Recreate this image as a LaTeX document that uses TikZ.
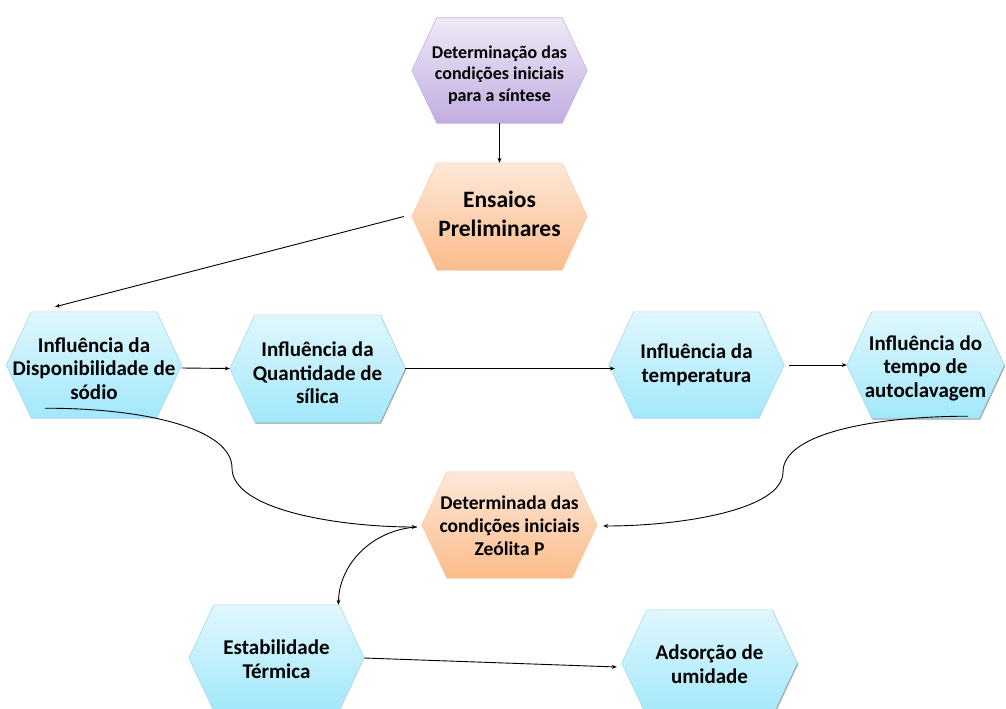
\documentclass[tikz,border=0pt]{standalone}
\usepackage{fontspec}
\setmainfont{Carlito}
\usetikzlibrary{arrows.meta}
\definecolor{bluetop}{HTML}{E0F7FD}
\definecolor{bluebot}{HTML}{A2E8FB}
\definecolor{blueline}{HTML}{A6DAEA}
\definecolor{orantop}{HTML}{FEE8D9}
\definecolor{oranbot}{HTML}{FBBC8B}
\definecolor{oranline}{HTML}{F9CDAA}
\definecolor{purptop}{HTML}{EFE9F7}
\definecolor{purpbot}{HTML}{C1ADE0}
\definecolor{purpline}{HTML}{C4B3E2}
\pgfdeclarelayer{background}
\pgfsetlayers{background,main}
\newcommand\txt[2]{\raisebox{-#1}[\height][\depth]{\begin{tabular}{@{}c@{}}#2\end{tabular}}}
\begin{document}
\begin{tikzpicture}[x=1pt,y=-1pt,
  hex/.style={rectangle, minimum width=175pt, minimum height=106pt, inner sep=0pt,
    font=\bfseries\fontsize{21}{23.5}\selectfont},
  hexp/.style={insert path={([xshift=25pt]#1.north west) -- ([xshift=-25pt]#1.north east)
    -- (#1.east) -- ([xshift=-25pt]#1.south east) -- ([xshift=25pt]#1.south west)
    -- (#1.west) -- cycle}},
  hblue/.style={top color=bluetop, bottom color=bluebot, draw=blueline, line width=0.6pt, hexp=#1},
  horan/.style={top color=orantop, bottom color=oranbot, draw=oranline, line width=0.6pt, hexp=#1},
  hpurp/.style={top color=purptop, bottom color=purpbot, draw=purpline, line width=0.6pt, hexp=#1},
  hshadow/.style={fill=black!55, opacity=0.7, transform canvas={shift={(0.9pt,-1.3pt)}}, hexp=#1},
  arr/.style={-{Stealth[length=5pt,width=4pt]}, line width=0.9pt, black}
]
\useasboundingbox (0,0) rectangle (1006,709);

\node[hex, font=\bfseries\fontsize{18}{21.5}\selectfont, minimum height=105pt] (pur) at (499.5,70.5)
  {\txt{5pt}{Determinação das\\condições iniciais\\para a síntese}};
\node[hex, font=\bfseries\fontsize{23.5}{28.5}\selectfont, minimum height=107pt] (ens) at (499.5,216.5)
  {\txt{0pt}{Ensaios\\Preliminares}};
\node[hex] (disp) at (94,365) {\txt{6pt}{Influência da\\Disponibilidade de\\sódio}};
\node[hex, minimum height=107pt] (quant) at (317.5,368.5) {\txt{7pt}{Influência da\\Quantidade de\\sílica}};
\node[hex] (temp) at (696.5,365) {\txt{1pt}{Influência da\\temperatura}};
\node[hex, minimum width=157pt] (auto) at (925.5,365) {\txt{4pt}{Influência do\\tempo de\\autoclavagem}};
\node[hex, font=\bfseries\fontsize{19.5}{23}\selectfont] (det) at (509.5,525)
  {\txt{3pt}{Determinada das\\condições iniciais\\Zeólita P}};
\node[hex] (estab) at (276.5,658) {\txt{4pt}{Estabilidade\\Térmica}};
\node[hex] (ads) at (709.5,663) {\txt{4pt}{Adsorção de\\umidade}};

\begin{pgfonlayer}{background}
  \path[hshadow=quant];
  \path[hshadow=auto];
  \path[hshadow=ads];
  \shade[hpurp=pur];
  \shade[horan=ens];
  \shade[horan=det];
  \shade[hblue=disp];
  \shade[hblue=quant];
  \shade[hblue=temp];
  \shade[hblue=auto];
  \shade[hblue=estab];
  \shade[hblue=ads];
\end{pgfonlayer}

\coordinate (m1) at (232,468);
\coordinate (m2) at (783,472);

\draw[arr] (pur.south) -- (ens.north);
\draw[arr] ([xshift=-8pt]ens.west) -- ([shift={(-39pt,5pt)}]disp.north);
\draw[arr] ([yshift=-3pt]disp.east) -- (quant.west);
\draw[arr, shorten >=-6pt] (quant.east) -- (quant.east -| temp.west);
\draw[arr] ([xshift=5pt]temp.east) -- (auto.west);
\draw[arr] ([shift={(-49pt,10pt)}]disp.south) .. controls +(105,0) and +(0,-38) .. (m1)
  .. controls +(0,42) and +(-78,0) .. ([shift={(-5pt,-2pt)}]det.west);
\draw[arr] ([shift={(42.5pt,2pt)}]auto.south) .. controls +(-88,0) and +(0,-40) .. (m2)
  .. controls +(0,38) and +(77,0) .. ([shift={(6pt,-1pt)}]det.east);
\draw[arr] ([shift={(-5pt,-2pt)}]det.west) .. controls +(-47,3) and +(0,-38) .. ([xshift=62pt]estab.north);
\draw[arr] (estab.east) -- ([shift={(-5pt,-4pt)}]ads.west);
\end{tikzpicture}
\end{document}
